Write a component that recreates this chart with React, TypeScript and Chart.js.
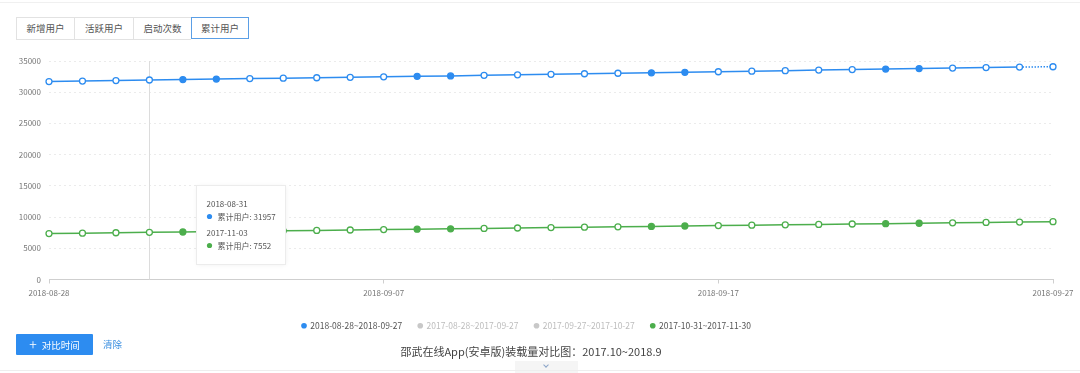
import React, { useEffect, useRef } from "react";
import { Chart, registerables } from "chart.js";

Chart.register(...registerables);

function makeDates(start: string, n: number): string[] {
  const out: string[] = [];
  const d0 = new Date(start + "T00:00:00Z").getTime();
  for (let i = 0; i < n; i++) {
    out.push(new Date(d0 + i * 86400000).toISOString().slice(0, 10));
  }
  return out;
}

const currentDates = makeDates("2018-08-28", 31);
const compareDates = makeDates("2017-10-31", 31);

const currentValues = [
  31700, 31790, 31870, 31957, 32030, 32100, 32180, 32250, 32320, 32390, 32470,
  32540, 32610, 32700, 32790, 32870, 32960, 33040, 33110, 33190, 33280, 33370,
  33450, 33540, 33620, 33700, 33780, 33860, 33950, 34030, 34080,
];
const compareValues = [
  7360, 7420, 7490, 7552, 7610, 7670, 7730, 7800, 7860, 7930, 7990, 8060, 8120,
  8180, 8250, 8310, 8380, 8440, 8500, 8570, 8630, 8700, 8760, 8820, 8890, 8950,
  9010, 9080, 9140, 9200, 9270,
];

const legendLabels = [
  "2018-08-28~2018-09-27",
  "2017-08-28~2017-09-27",
  "2017-09-27~2017-10-27",
  "2017-10-31~2017-11-30",
];
const tabLabels = ["新增用户", "活跃用户", "启动次数", "累计用户"];
const seriesName = "累计用户";
const yTicks = [0, 5000, 10000, 15000, 20000, 25000, 30000, 35000];
const hoverIndex = 3;
const title = "邵武在线App(安卓版)装载量对比图：2017.10~2018.9";

const BLUE = "#2d8cf0";
const GREEN = "#4cae4c";
const GREY = "#c8c8c8";
const FONT = '"Noto Sans CJK SC", "Noto Sans", sans-serif';

const isWeekend = (s: string) => {
  const d = new Date(s + "T00:00:00Z").getUTCDay();
  return d === 0 || d === 6;
};

const overlayPlugin = {
  id: "overlay",
  beforeDatasetsDraw(chart: any) {
    const ctx = chart.ctx;
    const x = Math.round(chart.scales.x.getPixelForValue(hoverIndex)) + 0.5;
    const { top, bottom } = chart.chartArea;
    ctx.save();
    ctx.strokeStyle = "#dcdcdc";
    ctx.lineWidth = 1;
    ctx.beginPath();
    ctx.moveTo(x, top);
    ctx.lineTo(x, bottom);
    ctx.stroke();
    ctx.restore();
  },
  afterDatasetsDraw(chart: any) {
    const ctx = chart.ctx;
    const x = chart.scales.x.getPixelForValue(hoverIndex);
    const bx = Math.round(x + 47) + 0.5;
    const by = Math.round(chart.chartArea.top + 124) + 0.5;
    const bw = 89;
    const bh = 79;
    ctx.save();
    ctx.shadowColor = "rgba(0,0,0,0.08)";
    ctx.shadowBlur = 5;
    ctx.fillStyle = "#ffffff";
    ctx.fillRect(bx, by, bw, bh);
    ctx.shadowColor = "transparent";
    ctx.strokeStyle = "#ececec";
    ctx.lineWidth = 1;
    ctx.strokeRect(bx, by, bw, bh);
    ctx.font = "8px " + FONT;
    ctx.textBaseline = "middle";
    const rows = [
      { date: currentDates[hoverIndex], value: currentValues[hoverIndex], color: BLUE },
      { date: compareDates[hoverIndex], value: compareValues[hoverIndex], color: GREEN },
    ];
    rows.forEach((r, i) => {
      const y0 = by + 18 + i * 29;
      ctx.fillStyle = "#555";
      ctx.fillText(r.date, bx + 10, y0);
      ctx.beginPath();
      ctx.fillStyle = r.color;
      ctx.arc(bx + 13, y0 + 13, 2.6, 0, Math.PI * 2);
      ctx.fill();
      ctx.fillStyle = "#555";
      ctx.fillText(seriesName + ": " + r.value, bx + 21, y0 + 13);
    });
    ctx.restore();
  },
};

function ChartCanvas() {
  const ref = useRef<HTMLCanvasElement | null>(null);
  useEffect(() => {
    if (!ref.current) return;
    const lastIdx = currentValues.length - 1;
    const pointBg = (dates: string[], color: string) => (c: any) =>
      isWeekend(dates[c.dataIndex] || "") ? color : "#ffffff";
    const chart = new Chart(ref.current, {
      type: "line",
      data: {
        labels: currentDates,
        datasets: [
          {
            label: legendLabels[0],
            data: currentValues,
            borderColor: BLUE,
            backgroundColor: BLUE,
            borderWidth: 1.5,
            pointRadius: 3,
            pointHoverRadius: 3,
            pointBorderWidth: 1.3,
            pointBorderColor: BLUE,
            pointBackgroundColor: pointBg(currentDates, BLUE),
            tension: 0,
            segment: {
              borderDash: (c: any) => (c.p1DataIndex === lastIdx ? [1.5, 1.5] : undefined),
            },
          } as any,
          { label: legendLabels[1], data: [], borderColor: GREY, backgroundColor: GREY } as any,
          { label: legendLabels[2], data: [], borderColor: GREY, backgroundColor: GREY } as any,
          {
            label: legendLabels[3],
            data: compareValues,
            borderColor: GREEN,
            backgroundColor: GREEN,
            borderWidth: 1.5,
            pointRadius: 3,
            pointHoverRadius: 3,
            pointBorderWidth: 1.3,
            pointBorderColor: GREEN,
            pointBackgroundColor: pointBg(compareDates, GREEN),
            tension: 0,
          } as any,
        ],
      },
      options: {
        responsive: true,
        maintainAspectRatio: false,
        animation: false,
        events: [],
        layout: { padding: { top: 17, right: 27, left: 0, bottom: 0 } },
        scales: {
          x: {
            type: "category",
            offset: false,
            afterFit: (s: any) => {
              s.height = 26;
            },
            grid: {
              drawOnChartArea: false,
              drawTicks: true,
              tickLength: 4,
              color: (c: any) => (c.index % 10 === 0 ? "#cfcfcf" : "transparent"),
            },
            border: { display: true, color: "#cfcfcf", width: 1 },
            ticks: {
              autoSkip: false,
              maxRotation: 0,
              padding: 5,
              color: "#777",
              font: { size: 8, family: FONT },
              callback: (_v: any, i: number) => (i % 10 === 0 ? currentDates[i] : ""),
            },
          },
          y: {
            min: yTicks[0],
            max: yTicks[yTicks.length - 1],
            afterFit: (s: any) => {
              s.width = 49;
            },
            afterBuildTicks: (s: any) => {
              s.ticks = yTicks.map((v) => ({ value: v }));
            },
            grid: { drawTicks: false, color: "#ebebeb", lineWidth: 1 },
            border: { display: false, dash: [2, 3] },
            ticks: {
              padding: 8,
              color: "#777",
              font: { size: 8, family: FONT },
              callback: (v: any) => String(v),
            },
          },
        },
        plugins: {
          tooltip: { enabled: false },
          legend: {
            position: "bottom",
            onClick: () => {},
            labels: {
              usePointStyle: true,
              pointStyle: "circle",
              boxWidth: 4,
              boxHeight: 4,
              padding: 16,
              font: { size: 8.5, family: FONT },
              generateLabels: (ch: any) =>
                ch.data.datasets.map((ds: any, i: number) => ({
                  text: ds.label,
                  fillStyle: ds.borderColor,
                  strokeStyle: ds.borderColor,
                  lineWidth: 0,
                  pointStyle: "circle",
                  hidden: false,
                  datasetIndex: i,
                  fontColor: ds.data.length ? "#555" : "#bdbdbd",
                })),
            },
          },
        },
      },
      plugins: [overlayPlugin],
    } as any);
    return () => chart.destroy();
  }, []);
  return (
    <div style={{ position: "absolute", left: 0, top: 44, width: 1080, height: 296 }}>
      <canvas ref={ref} />
    </div>
  );
}

export default function App() {
  const tabWidths = [58, 59, 58, 58];
  let acc = 16;
  const tabs = tabLabels.map((t, i) => {
    const left = acc;
    acc += tabWidths[i];
    const active = i === tabLabels.length - 1;
    return (
      <div
        key={t}
        style={{
          position: "absolute",
          left,
          top: 17,
          width: tabWidths[i] - (active ? 2 : 1),
          height: active ? 20 : 21,
          border: active ? "1px solid #5b9fe6" : "1px solid #e2e2e2",
          borderRight: active ? "1px solid #5b9fe6" : i === tabLabels.length - 2 ? "none" : "1px solid #e2e2e2",
          fontSize: 9.5,
          color: "#555",
          lineHeight: active ? "20px" : "21px",
          textAlign: "center",
          fontFamily: FONT,
          background: "#fff",
          zIndex: active ? 2 : 1,
        }}
      >
        {t}
      </div>
    );
  });
  return (
    <div
      style={{
        position: "fixed",
        left: 0,
        top: 0,
        width: 1080,
        height: 373,
        background: "#fff",
        fontFamily: FONT,
        overflow: "hidden",
      }}
    >
      <div style={{ position: "absolute", left: 0, top: 2, width: 1080, height: 1, background: "#f0f0f0" }} />
      {tabs}
      <ChartCanvas />
      <div
        style={{
          position: "absolute",
          left: 16,
          top: 334,
          width: 77,
          height: 21,
          background: "#2d8cf0",
          color: "#fff",
          fontSize: 9.5,
          lineHeight: "21px",
          textAlign: "center",
          borderRadius: 1,
        }}
      >
        <span style={{ fontSize: 14, fontWeight: 300, marginRight: 5, verticalAlign: "-1px" }}>+</span>对比时间
      </div>
      <div style={{ position: "absolute", left: 103, top: 336, fontSize: 9.5, color: "#3b8fe0", lineHeight: "16px" }}>清除</div>
      <div
        style={{
          position: "absolute",
          left: 0,
          width: 1062,
          top: 342,
          textAlign: "center",
          fontSize: 11,
          color: "#444",
          lineHeight: "18px",
          whiteSpace: "nowrap",
        }}
      >
        {title}
      </div>
      <div style={{ position: "absolute", left: 515, top: 361, width: 63, height: 12, background: "#f5f5f5" }}>
        <div
          style={{
            position: "absolute",
            left: 29,
            top: 2,
            width: 3,
            height: 3,
            borderRight: "1px solid #8aa4c8",
            borderBottom: "1px solid #8aa4c8",
            transform: "rotate(45deg)",
          }}
        />
      </div>
      <div style={{ position: "absolute", left: 0, top: 370, width: 1080, height: 1, background: "#eeeeee" }} />
    </div>
  );
}
